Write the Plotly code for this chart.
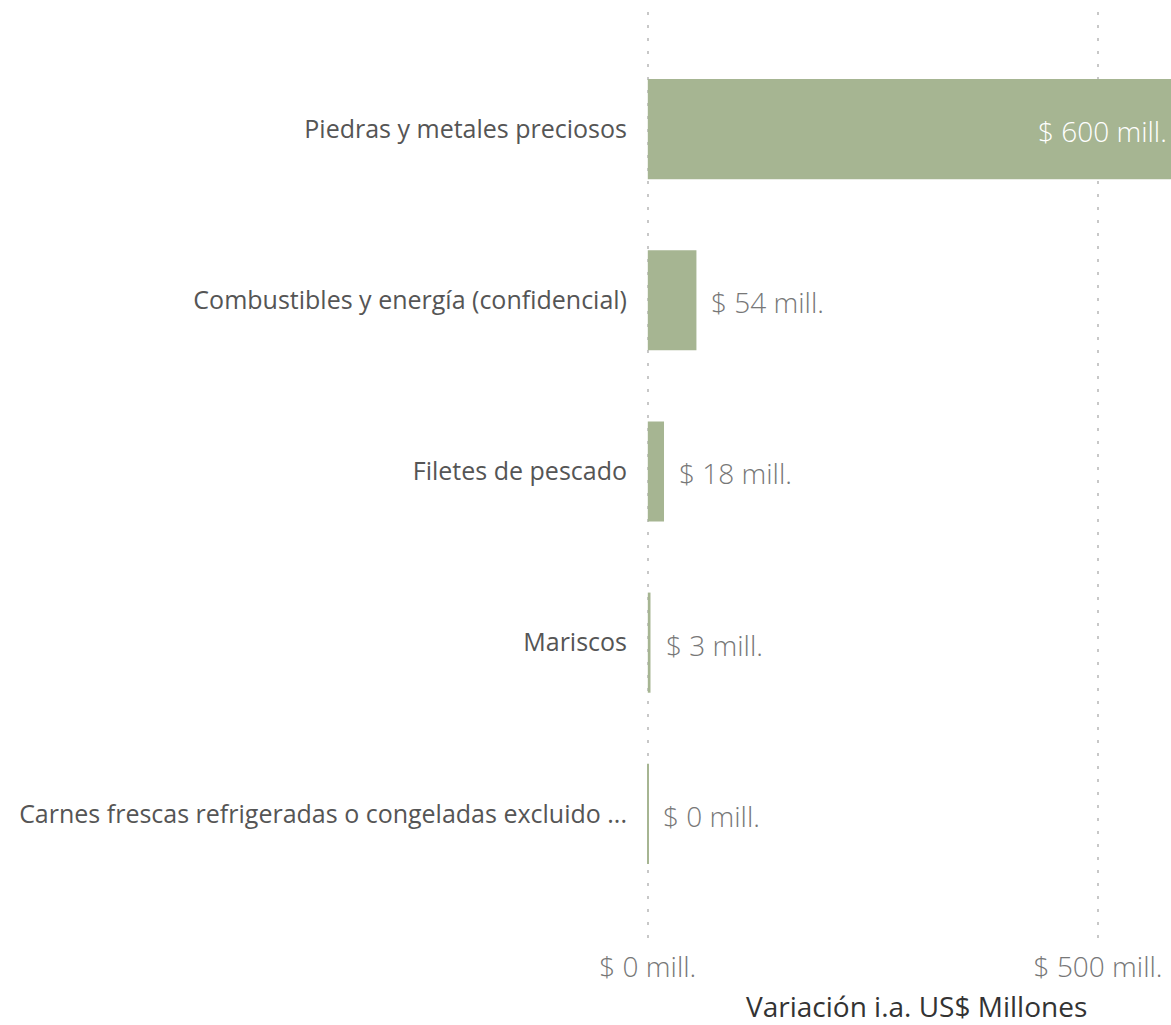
import plotly.graph_objects as go

categories = [
    "Piedras y metales preciosos",
    "Combustibles y energía (confidencial)",
    "Filetes de pescado",
    "Mariscos",
    "Carnes frescas refrigeradas o congeladas excluido ...",
]
values = [600, 54, 18, 3, 0.4]
value_labels = ["$ 600 mill.", "$ 54 mill.", "$ 18 mill.", "$ 3 mill.", "$ 0 mill."]
tick_vals = [0, 500]
tick_text = ["$ 0 mill.", "$ 500 mill."]
x_title = "Variación i.a. US$ Millones"

BAR = "#a6b592"
x_min, x_max = -2, 581

fig = go.Figure()
fig.add_trace(go.Bar(
    y=categories,
    x=values,
    orientation="h",
    marker=dict(color=BAR, line=dict(width=0)),
    width=0.585,
    cliponaxis=True,
    hoverinfo="skip",
))

for cat, v, lab in zip(categories, values, value_labels):
    if v > x_max * 0.5:
        fig.add_annotation(
            x=min(v, x_max), y=cat, xref="x", yref="y",
            text=lab, showarrow=False,
            xanchor="right", yanchor="middle", xshift=-2, yshift=-2,
            font=dict(family="Open Sans", size=28, color="#ffffff", weight=300),
        )
    else:
        fig.add_annotation(
            x=v, y=cat, xref="x", yref="y",
            text=lab, showarrow=False,
            xanchor="left", yanchor="middle", xshift=13, yshift=-2,
            font=dict(family="Open Sans", size=28, color="#777777", weight=300),
        )

# axis title
fig.add_annotation(
    x=0.5, y=0, xref="paper", yref="paper",
    text=x_title, showarrow=False,
    xanchor="center", yanchor="middle", xshift=8, yshift=-66,
    font=dict(family="Open Sans", size=28, color="#333333"),
)

fig.update_layout(
    width=1171, height=1025,
    margin=dict(l=646, r=0, t=12, b=85, pad=0),
    paper_bgcolor="white", plot_bgcolor="white",
    showlegend=False,
    xaxis=dict(
        range=[x_min, x_max],
        tickvals=tick_vals, ticktext=tick_text,
        showgrid=True, gridcolor="#c8c8c8", griddash="3px,10px", gridwidth=2,
        zeroline=False, showline=False,
        ticks="", ticklabelstandoff=8,
        tickfont=dict(family="Open Sans", size=28, color="#777777", weight=300),
    ),
    yaxis=dict(
        categoryorder="array", categoryarray=categories,
        range=[4.737, -0.684],
        showgrid=False, zeroline=False, showline=False,
        ticks="", ticklabelstandoff=18,
        tickfont=dict(family="Open Sans", size=25, color="#555555"),
    ),
)

fig.write_html(
    "out.html",
    config={"displayModeBar": False},
    post_script="document.body.style.margin='0';document.body.style.overflow='hidden';",
)
